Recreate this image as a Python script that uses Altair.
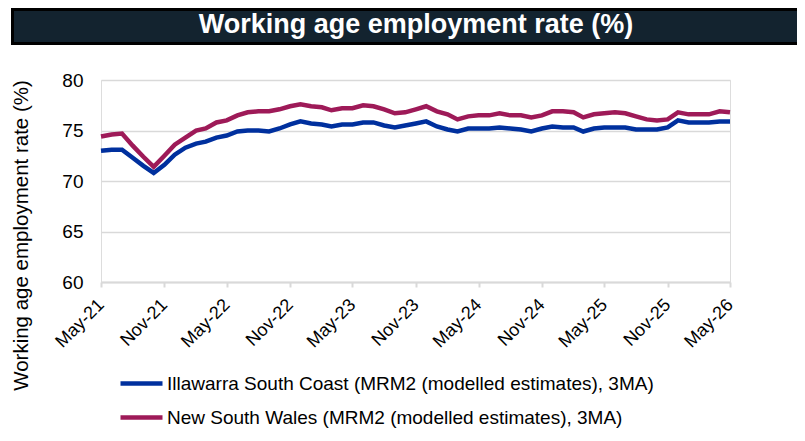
import altair as alt
import pandas as pd

title_text = "Working age employment rate (%)"
y_title = "Working age employment rate (%)"
series_names = [
    "Illawarra South Coast (MRM2 (modelled estimates), 3MA)",
    "New South Wales (MRM2 (modelled estimates), 3MA)",
]
series_colors = ["#00309E", "#9E1A58"]

months = pd.date_range("2021-05-01", "2026-05-01", freq="MS").strftime("%Y-%m-%d").tolist()

illawarra = [73.0, 73.1, 73.1, 72.3, 71.5, 70.8, 71.6, 72.6, 73.3, 73.7,
             73.9, 74.3, 74.5, 74.9, 75.0, 75.0, 74.9, 75.2, 75.6, 75.9,
             75.7, 75.6, 75.4, 75.6, 75.6, 75.8, 75.8, 75.5, 75.3, 75.5,
             75.7, 75.9, 75.4, 75.1, 74.9, 75.2, 75.2, 75.2, 75.3, 75.2,
             75.1, 74.9, 75.2, 75.4, 75.3, 75.3, 74.9, 75.2, 75.3, 75.3,
             75.3, 75.1, 75.1, 75.1, 75.3, 76.0, 75.8, 75.8, 75.8, 75.9,
             75.9]
nsw = [74.4, 74.6, 74.7, 73.5, 72.4, 71.4, 72.5, 73.6, 74.3, 75.0,
       75.2, 75.8, 76.0, 76.5, 76.8, 76.9, 76.9, 77.1, 77.4, 77.6,
       77.4, 77.3, 77.0, 77.2, 77.2, 77.5, 77.4, 77.1, 76.7, 76.8,
       77.1, 77.4, 76.9, 76.6, 76.1, 76.4, 76.5, 76.5, 76.7, 76.5,
       76.5, 76.3, 76.5, 76.9, 76.9, 76.8, 76.3, 76.6, 76.7, 76.8,
       76.7, 76.4, 76.1, 76.0, 76.1, 76.8, 76.6, 76.6, 76.6, 76.9,
       76.8]

y_ticks = [60, 65, 70, 75, 80]
x_ticks = months[::6]

df = pd.concat([
    pd.DataFrame({"month": months, "value": illawarra, "series": series_names[0]}),
    pd.DataFrame({"month": months, "value": nsw, "series": series_names[1]}),
])

FONT = "Liberation Sans"

lines = alt.Chart(df).mark_line(strokeWidth=4.5).encode(
    x=alt.X("month:T",
            scale=alt.Scale(type="utc", domain=[months[0], months[-1]]),
            axis=alt.Axis(values=x_ticks, labelExpr="utcFormat(datum.value, '%b-%y')",
                          labelAngle=-45, labelAlign="right", labelBaseline="middle",
                          labelPadding=15, labelFontSize=18, labelColor="#000",
                          labelFont=FONT, grid=False, ticks=True, tickSize=5,
                          tickColor="#D9D9D9", tickWidth=2, domainColor="#D9D9D9",
                          domainWidth=2, title=None, labelOverlap=False)),
    y=alt.Y("value:Q",
            scale=alt.Scale(domain=[60, 80], nice=False, zero=False),
            axis=alt.Axis(values=y_ticks, labelFontSize=19, labelColor="#000",
                          labelFont=FONT, labelPadding=18, ticks=False, domain=False,
                          grid=True, gridColor="#D9D9D9", gridWidth=1.5,
                          title=y_title, titleFont=FONT, titleFontSize=20.5,
                          titleFontWeight="normal", titleColor="#000",
                          titleX=-80, titleY=155, titleBaseline="middle",
                          titleAlign="center")),
    color=alt.Color("series:N",
                    scale=alt.Scale(domain=series_names, range=series_colors),
                    legend=alt.Legend(title=None, orient="none", legendX=17, legendY=280,
                                      direction="vertical", symbolType="stroke",
                                      symbolSize=1764, symbolStrokeWidth=4.5,
                                      labelFontSize=19, labelFont=FONT, labelColor="#000",
                                      labelLimit=0, labelOffset=2, rowPadding=0,
                                      padding=0)),
)

tdf = pd.DataFrame({"t": [title_text]})
bar_outer = alt.Chart(tdf).mark_rect(color="#000").encode(
    x=alt.value(-90), x2=alt.value(700), y=alt.value(-72), y2=alt.value(-35))
bar_inner = alt.Chart(tdf).mark_rect(color="#13232F").encode(
    x=alt.value(-87), x2=alt.value(700), y=alt.value(-69), y2=alt.value(-38))
bar_text = alt.Chart(tdf).mark_text(color="#FFFFFF", font=FONT, fontSize=27,
                                    fontWeight="bold", align="center",
                                    baseline="middle").encode(
    x=alt.value(315), y=alt.value(-55), text="t:N")

chart = alt.layer(bar_outer, bar_inner, bar_text, lines).properties(
    width=629, height=202,
    autosize=alt.AutoSizeParams(type="none"),
    padding={"left": 93, "top": 72, "right": 67, "bottom": 148},
).configure_view(stroke=None).configure(background="#FFFFFF")

chart.save("out.html", embed_options={"renderer": "svg", "actions": False})
